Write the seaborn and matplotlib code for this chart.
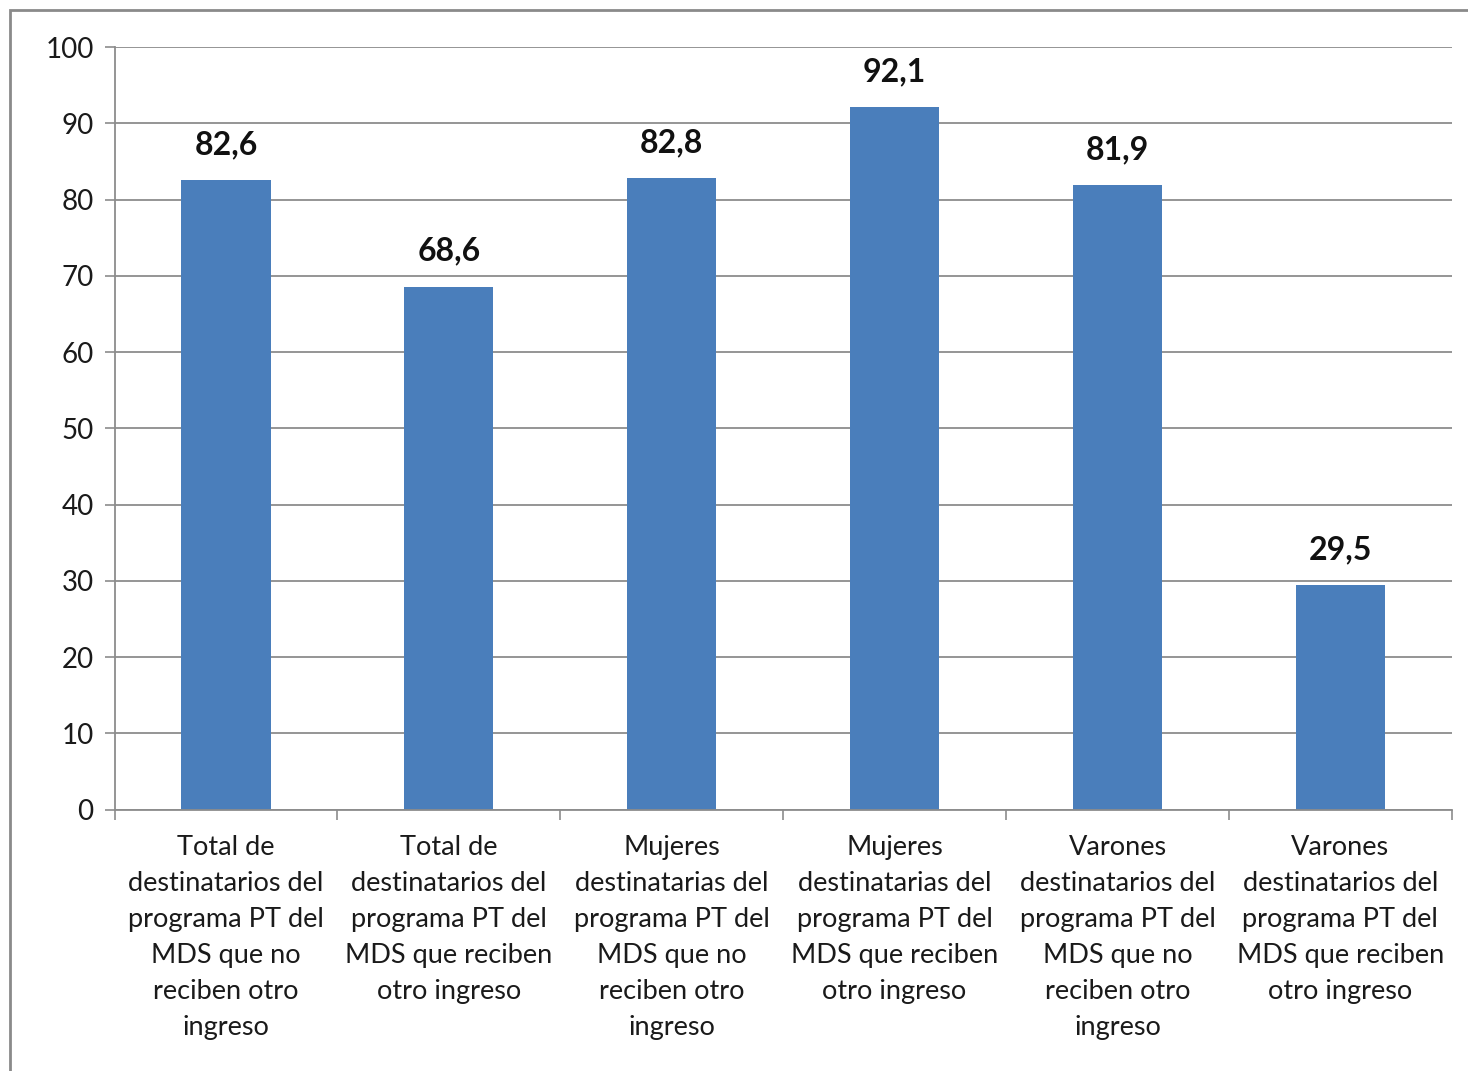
import matplotlib
matplotlib.use("Agg")
import matplotlib.pyplot as plt
import seaborn as sns
import pandas as pd
from matplotlib.patches import Rectangle

categories = [
    "Total de\ndestinatarios del\nprograma PT del\nMDS que no\nreciben otro\ningreso",
    "Total de\ndestinatarios del\nprograma PT del\nMDS que reciben\notro ingreso",
    "Mujeres\ndestinatarias del\nprograma PT del\nMDS que no\nreciben otro\ningreso",
    "Mujeres\ndestinatarias del\nprograma PT del\nMDS que reciben\notro ingreso",
    "Varones\ndestinatarios del\nprograma PT del\nMDS que no\nreciben otro\ningreso",
    "Varones\ndestinatarios del\nprograma PT del\nMDS que reciben\notro ingreso",
]
values = [82.6, 68.6, 82.8, 92.1, 81.9, 29.5]
value_labels = ["82,6", "68,6", "82,8", "92,1", "81,9", "29,5"]
yticks = [0, 10, 20, 30, 40, 50, 60, 70, 80, 90, 100]

sns.set_theme(style="white")
plt.rcParams['font.family'] = ['Lato', 'DejaVu Sans']

df = pd.DataFrame({"cat": categories, "val": values})

fig = plt.figure(figsize=(14.68, 10.71), dpi=100)
ax = fig.add_axes([0.078, 0.244, 0.911, 0.712])

sns.barplot(data=df, x="cat", y="val", color="#4A7EBB", saturation=1,
            width=0.4, ax=ax, edgecolor="none")

ax.set_ylim(0, 100)
ax.set_xlim(-0.5, len(categories) - 0.5)
ax.set_yticks(yticks)
ax.set_yticklabels([str(t) for t in yticks], fontsize=20, color="#1a1a1a")
ax.yaxis.grid(True, color="#8c8c8c", linewidth=1.3)
ax.set_axisbelow(True)
ax.set_xlabel("")
ax.set_ylabel("")

ax.set_xticks([i - 0.5 for i in range(len(categories) + 1)], minor=False)
ax.set_xticklabels([])
ax.set_xticks(range(len(categories)), minor=True)
ax.set_xticklabels(categories, minor=True, fontsize=19.5, color="#1a1a1a",
                   linespacing=1.55)
ax.tick_params(axis="x", which="major", length=7, width=1.2, color="#8c8c8c",
               direction="out", bottom=True)
ax.tick_params(axis="x", which="minor", length=0, pad=18)
ax.tick_params(axis="y", length=7, width=1.2, color="#8c8c8c", left=True,
               direction="out", pad=8)

for s in ["top", "right"]:
    ax.spines[s].set_visible(False)
for s in ["left", "bottom"]:
    ax.spines[s].set_color("#8c8c8c")
    ax.spines[s].set_linewidth(1.3)

for i, (v, lab) in enumerate(zip(values, value_labels)):
    ax.annotate(lab, (i, v), xytext=(0, 15), textcoords="offset points",
                ha="center", va="bottom", fontsize=23, fontweight="bold",
                color="#111111")

fig.patches.append(Rectangle((10 / 1468, -0.1), 1.2, 1 - 10 / 1071 + 0.1,
                             transform=fig.transFigure, fill=False,
                             edgecolor="#8a8a8a", linewidth=2))

fig.savefig("out.png", dpi=100)
